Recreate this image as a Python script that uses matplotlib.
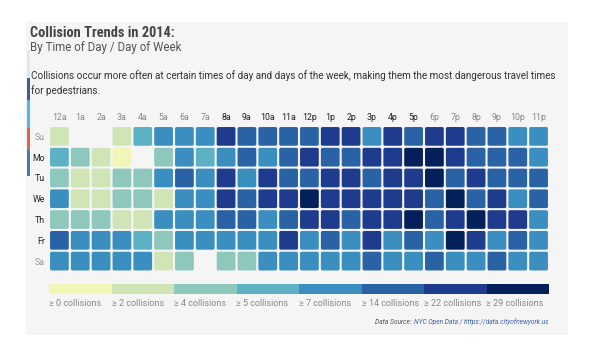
import numpy as np
import matplotlib
matplotlib.use("Agg")
import matplotlib.pyplot as plt
from matplotlib.patches import FancyBboxPatch, Rectangle
from matplotlib.colors import ListedColormap, BoundaryNorm
from matplotlib import font_manager

plt.rcParams['font.family'] = ['Roboto', 'DejaVu Sans']

days = ["Su", "Mo", "Tu", "We", "Th", "Fr", "Sa"]
hours = ["12a", "1a", "2a", "3a", "4a", "5a", "6a", "7a", "8a", "9a", "10a", "11a",
         "12p", "1p", "2p", "3p", "4p", "5p", "6p", "7p", "8p", "9p", "10p", "11p"]
busy_hours = ["8a", "9a", "10a", "11a", "12p", "1p", "2p", "3p", "4p", "5p"]
weekdays = ["Mo", "Tu", "We", "Th", "Fr"]

# estimated collision counts per hour (nan = no data)
n = np.nan
su = [3, n, n, 3, 6, 9, 9, 9, 25, 17, 17, 17, 17, 25, 25, 9, 25, 17, 25, 25, 17, 17, 9, 9]
mo = [6, 4, 3, 1, n, 4, 9, 6, 9, 17, 9, 17, 25, 17, 17, 25, 25, 31, 31, 25, 17, 17, 17, 9]
tu = [4, 3, 3, 4, 4, 9, 17, 9, 25, 9, 25, 17, 17, 25, 25, 17, 25, 25, 31, 17, 25, 17, 17, 17]
we = [9, 3, 3, 4, 4, 3, 9, 9, 25, 17, 25, 25, 31, 25, 25, 25, 25, 25, 17, 31, 17, 25, 9, 17]
th = [4, 4, 4, 3, 3, 9, 9, 9, 17, 17, 9, 17, 25, 25, 17, 25, 25, 31, 17, 25, 31, 25, 25, 9]
fr = [17, 9, 9, 9, 6, 4, 9, 9, 9, 9, 9, 25, 9, 17, 9, 25, 9, 17, 9, 31, 25, 9, 17, 9]
sa = [9, 9, 9, 9, 9, 3, 4, n, 4, 4, 9, 9, 9, 9, 9, 17, 9, 9, 17, 9, 9, 17, 9, 9]
counts = np.array([su, mo, tu, we, th, fr, sa], dtype=float)

thresholds = [0, 2, 4, 5, 7, 14, 22, 29]
colors = ["#f1f5b6", "#cfe5b6", "#8ec8bc", "#5cb2c4", "#3b8fc0", "#2962a5", "#1f3b8e", "#04205a"]

cmap = ListedColormap(colors)
norm = BoundaryNorm(thresholds + [1000], cmap.N)

# narrow font for the title if there is one
names = set(f.name for f in font_manager.fontManager.ttflist)
title_font = ['Roboto']
title_size = 10
for cand in ['Roboto Condensed', 'Liberation Sans Narrow', 'DejaVu Sans Condensed']:
    if cand in names:
        title_font = [cand, 'Roboto']
        title_size = 10.4
        break

fig = plt.figure(figsize=(5.96, 3.58), dpi=100)
fig.patch.set_facecolor("white")
fig.add_artist(Rectangle((26 / 596, 1 - 335 / 358), 542 / 596, 313 / 358,
                         transform=fig.transFigure, facecolor="#f5f5f5", edgecolor="none", zorder=0))

# left accent bar
bar_segments = [(50, 78, "#dce9f5"), (78, 100, "#3a5f9f"), (100, 128, "#4db7ee"),
                (128, 150, "#d9654f"), (150, 176, "#3a7fc0")]
for y0, y1, c in bar_segments:
    fig.add_artist(Rectangle((27 / 596, 1 - y1 / 358), 3 / 596, (y1 - y0) / 358,
                             transform=fig.transFigure, facecolor=c, edgecolor="none"))

fig.text(30 / 596, 1 - 33 / 358, "Collision Trends in 2014:", fontsize=title_size, fontweight="bold",
         color="#444444", va="center", ha="left", family=title_font)
fig.text(30 / 596, 1 - 48 / 358, "By Time of Day / Day of Week", fontsize=8.3, color="#555555",
         va="center", ha="left")
fig.text(31 / 596, 1 - 76 / 358,
         "Collisions occur more often at certain times of day and days of the week, making them the most dangerous travel times",
         fontsize=7.1, color="#333333", va="center", ha="left")
fig.text(31 / 596, 1 - 91 / 358, "for pedestrians.", fontsize=7.1, color="#333333", va="center", ha="left")

ax = fig.add_axes([49 / 596, 1 - 271.5 / 358, 500 / 596, 145.5 / 358])
ax.set_facecolor("none")
ax.set_xlim(0, len(hours))
ax.set_ylim(len(days), 0)
for i in range(len(days)):
    for j in range(len(hours)):
        v = counts[i, j]
        if np.isnan(v):
            continue
        c = cmap(norm(v))
        ax.add_patch(FancyBboxPatch((j + 0.05, i + 0.05), 0.9, 0.9,
                                    boxstyle="round,pad=0,rounding_size=0.08",
                                    facecolor=c, edgecolor="none"))
for s in ax.spines.values():
    s.set_visible(False)
ax.set_xticks(np.arange(len(hours)) + 0.5)
ax.set_xticklabels(hours, fontsize=6.3)
ax.xaxis.tick_top()
ax.set_yticks(np.arange(len(days)) + 0.5)
ax.set_yticklabels(days, fontsize=6.3)
ax.tick_params(length=0, pad=3)
for lab, h in zip(ax.get_xticklabels(), hours):
    lab.set_color("#222222" if h in busy_hours else "#888888")
for lab, d in zip(ax.get_yticklabels(), days):
    lab.set_color("#222222" if d in weekdays else "#999999")

# legend
lax = fig.add_axes([49 / 596, 1 - 294 / 358, 500 / 596, 10 / 358])
lax.set_xlim(0, len(thresholds))
lax.set_ylim(0, 1)
lax.axis("off")
for k, t in enumerate(thresholds):
    lax.add_patch(Rectangle((k, 0), 1, 1, facecolor=colors[k], edgecolor="none"))
    lax.text(k, -0.55, "\u2265 %d collisions" % t, fontsize=6.5, color="#888888",
             ha="left", va="top")

fig.text(549 / 596, 1 - 322 / 358, "NYC Open Data / https://data.cityofnewyork.us", fontsize=4.8,
         style="italic", color="#4060a8", ha="right", va="center")
fig.text(413 / 596, 1 - 322 / 358, "Data Source: ", fontsize=4.8,
         style="italic", color="#555555", ha="right", va="center")

fig.savefig("out.png", dpi=100)
